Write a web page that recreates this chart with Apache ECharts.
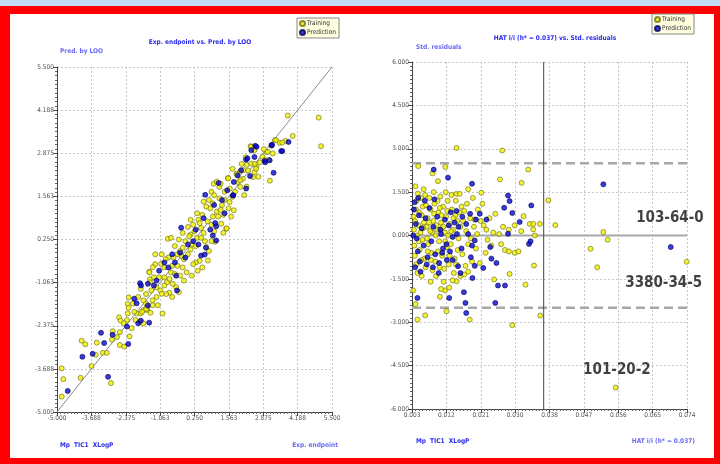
<!DOCTYPE html>
<html>
<head>
<meta charset="utf-8">
<script src="https://cdn.jsdelivr.net/npm/echarts@6/dist/echarts.min.js"></script>
<style>
body { margin: 0; }
#wrap { position: relative; width: 720px; height: 464px; background: #c2dcf6; overflow: hidden; }
#frame { position: absolute; left: 0; top: 6px; width: 720px; height: 458px; background: #ff0000; }
#paper { position: absolute; left: 10px; top: 14px; width: 704px; height: 444px; background: #fff; }
#main { position: absolute; left: 0; top: 0; width: 720px; height: 464px; }
</style>
</head>
<body>
<div id="wrap">
  <div id="frame"></div>
  <div id="paper"></div>
  <div id="main"></div>
</div>
<script>
// left plot: experimental endpoint vs predicted by LOO
var looTicks = ['-5.000', '-3.688', '-2.375', '-1.063', '0.250', '1.563', '2.875', '4.188', '5.500']
var hatTicks = ['0.003', '0.012', '0.021', '0.030', '0.038', '0.047', '0.056', '0.065', '0.074']
var resTicks = ['-6.000', '-4.500', '-3.000', '-1.500', '0.000', '1.500', '3.000', '4.500', '6.000']

var looTraining = [
  [-4.82, -3.67], [-4.76, -4.0], [-4.82, -4.53], [-4.10, -3.96], [-4.06, -2.83], [-3.92, -2.94],
  [-3.68, -3.6], [-3.52, -3.26], [-3.48, -2.89], [-3.25, -3.2], [-3.1, -3.2], [-2.94, -4.12],
  [-2.9, -2.8], [-2.87, -2.54], [-2.71, -2.72], [-2.63, -2.12], [-2.57, -2.22], [-2.6, -2.57],
  [-2.6, -2.96], [-2.43, -3.01], [-2.33, -2.2], [-2.23, -2.7], [-2.3, -2.0], [-2.0, -2.2],
  [-1.82, -2.25], [-1.7, -2.3], [-1.95, -2.0], [-1.8, -2.0], [-1.7, -1.9], [-1.55, -1.9],
  [-0.97, -2.0], [-1.6, -1.7], [-2.3, -1.71], [-2.26, -1.51], [-2.27, -1.83], [-1.58, -1.84],
  [-1.43, -1.98], [-1.45, -0.96], [-1.48, -0.73], [-0.71, -1.37], [-0.77, 0.27], [-0.65, 0.3],
  [-0.5, 0.05], [-0.3, -0.1], [-0.25, -0.25], [0.70, 0.02], [0.45, -0.4], [0.76, -0.39],
  [0.37, -0.7], [0.3, -0.45], [-0.55, -0.3], [-0.6, -0.55], [-0.75, -0.3], [-0.4, -0.55],
  [-0.3, -0.85], [-0.2, -0.6], [-1.02, -0.49], [-1.25, -0.5], [-1.34, -0.59], [-1.47, -0.75],
  [-1.1, -0.9], [-0.9, -0.9], [-0.58, -1.1], [-0.45, -1.2], [-0.8, -1.05], [-1.6, -1.41],
  [-0.83, -1.41], [-1.2, -1.2], [-1.05, -1.3], [-1.4, -1.3], [-1.7, -1.6], [-1.6, -1.87],
  [-1.75, -1.95], [-1.35, -1.6], [-1.2, -1.5], [-0.9, -1.15], [-0.65, -0.75], [-0.15, -0.35],
  [0.0, -0.2], [0.15, 0.1], [-0.1, 0.2], [0.1, 0.4], [0.25, 0.5], [0.35, 0.3], [0.5, 0.6],
  [0.0, 0.63], [0.2, 0.7], [0.4, 0.85], [0.55, 1.0], [0.35, 1.05], [0.6, 0.45], [0.75, 0.8],
  [0.9, 0.7], [1.0, 0.5], [1.27, 0.73], [1.46, 0.58], [1.03, 0.18], [1.48, 0.59], [1.1, 1.1],
  [0.85, 1.2], [0.98, 1.95], [0.8, 1.45], [0.9, 1.7], [1.2, 1.5], [1.3, 1.3], [1.59, 1.39],
  [1.75, 1.14], [1.4, 1.7], [1.52, 2.12], [1.1, 2.01], [1.0, 1.6], [1.2, 1.85], [1.6, 1.8],
  [1.91, 2.0], [1.85, 2.25], [2.1, 2.1], [2.0, 1.85], [2.24, 1.86], [1.54, 2.11], [1.99, 2.31],
  [2.11, 2.36], [2.24, 2.52], [2.42, 2.56], [2.61, 2.46], [2.54, 2.3], [2.48, 2.15], [2.39, 3.09],
  [2.54, 2.97], [2.69, 2.16], [2.6, 2.4], [2.55, 2.55], [2.84, 2.77], [3.0, 2.91], [3.09, 2.67],
  [2.94, 2.67], [3.05, 2.92], [3.24, 2.87], [3.13, 2.04], [3.32, 3.28], [3.37, 3.27], [3.5, 3.19],
  [3.72, 3.25], [4.0, 3.4], [3.6, 3.2], [3.81, 4.02], [4.99, 3.96], [5.08, 3.09], [2.41, 3.07],
  [2.2, 2.75], [1.86, 2.23], [1.7, 1.55], [1.35, 1.0], [1.25, 1.15], [1.55, 1.2], [0.65, 0.2],
  [0.5, 0.3], [0.3, 0.05], [0.1, -0.05], [-0.2, 0.0], [-0.4, -0.2], [-0.9, -0.6], [-0.7, -0.95],
  [-1.3, -0.9], [-1.45, -1.05], [-1.8, -1.25], [-1.9, -1.5], [-2.1, -1.7], [-2.05, -1.95],
  [-2.45, -2.3], [-2.15, -2.45], [-1.35, -1.75], [-1.15, -1.75], [-0.5, -0.8], [0.05, 0.35],
  [0.45, 0.75], [0.7, 1.25], [0.95, 1.35], [1.15, 0.95], [1.4, 1.45], [1.8, 1.7], [2.05, 2.55],
  [2.3, 2.35], [2.75, 2.6], [2.9, 3.0], [3.2, 3.1], [2.15, 1.6], [1.65, 0.95], [0.8, -0.1],
  [0.55, -0.6], [0.95, 0.95], [0.2, -0.5], [-0.05, -0.75], [-0.35, -1.35], [-0.6, -1.5], [-1.0, -1.4],
  [-1.0, -0.2], [-0.85, -0.35], [-0.35, 0.25], [0.1, 0.85], [0.6, 1.4], [1.25, 1.95], [1.7, 2.4],
  [2.0, 2.05], [1.35, 0.45], [0.9, 0.2], [0.15, -0.85], [-0.15, -1.0], [-1.25, -0.2], [-0.2, 0.45]
]
var looPrediction = [
  [-4.59, -4.36], [-4.03, -3.32], [-3.64, -3.23], [-3.32, -2.59], [-3.2, -2.9], [-3.05, -3.93],
  [-2.88, -2.65], [-2.28, -2.93], [-2.33, -2.4], [-1.9, -2.3], [-1.8, -2.22], [-1.48, -2.28],
  [-1.96, -1.69], [-2.05, -1.55], [-1.83, -1.08], [-1.53, -1.10], [-1.79, -1.15], [-1.53, -1.76],
  [-1.2, -1.0], [-0.42, -1.3], [-1.1, -0.7], [-0.9, -0.45], [-0.6, -0.2], [-0.75, -0.6],
  [-0.5, -0.45], [-0.3, -0.15], [-0.1, -0.3], [0.5, -0.24], [0.64, -0.21], [0.69, 0.0],
  [-0.26, 0.61], [0.2, 0.2], [0.0, 0.1], [0.3, 0.55], [0.95, 0.37], [1.08, 0.22], [1.08, 0.65],
  [1.04, 0.75], [0.6, 0.9], [0.66, 1.61], [1.17, 1.97], [1.72, 1.59], [1.3, 1.45], [1.0, 1.3],
  [1.5, 1.75], [1.75, 2.0], [2.03, 2.36], [1.9, 2.2], [2.22, 1.8], [2.22, 2.68], [2.54, 2.76],
  [2.57, 3.1], [2.62, 3.07], [2.42, 2.97], [2.27, 2.72], [2.37, 2.18], [1.73, 1.60], [3.19, 3.12],
  [3.56, 2.94], [3.27, 2.28], [2.93, 2.64], [3.12, 2.66], [3.84, 3.22], [3.60, 2.94], [3.21, 3.13],
  [2.95, 2.6], [-0.45, -0.85], [-1.3, -1.15], [0.4, 0.1], [0.85, 0.55], [1.4, 1.05]
]

// right plot: leverage (HAT) vs standardized residuals
var hatTraining = [
  [0.0145, 3.03], [0.0263, 2.94], [0.0046, 2.40], [0.0116, 2.37], [0.033, 2.28], [0.0083, 2.15],
  [0.0097, 1.88], [0.0257, 1.94], [0.0313, 1.82], [0.0145, 1.44], [0.0153, 1.44], [0.0209, 1.48],
  [0.0175, 1.6], [0.0382, 1.22], [0.0318, 0.67], [0.040, 0.36], [0.0334, 0.40], [0.0343, 0.40],
  [0.036, 0.40], [0.0343, 0.21], [0.0347, 0.0], [0.0524, 0.12], [0.0535, -0.15], [0.0491, -0.46],
  [0.0508, -1.10], [0.0739, -0.91], [0.0345, -1.04], [0.0323, -1.70], [0.0282, -1.33], [0.0242, -1.52],
  [0.0361, -2.77], [0.0289, -3.10], [0.0179, -2.91], [0.0119, -2.62], [0.0064, -2.76], [0.0044, -2.91],
  [0.0039, -2.37], [0.0033, -1.90], [0.0102, -2.12], [0.0115, -1.9], [0.0145, -1.58], [0.0155, -1.4],
  [0.0175, -1.25], [0.0205, -0.95], [0.022, -0.6], [0.0235, -0.35], [0.026, -0.3], [0.027, -0.5],
  [0.028, -0.55], [0.0295, -0.6], [0.0305, -0.55], [0.0255, 0.05], [0.0222, 0.2], [0.0198, 0.05],
  [0.0207, 0.5], [0.0215, 0.35], [0.023, 0.6], [0.0245, 0.75], [0.0265, 0.3], [0.028, 0.2],
  [0.0295, 0.35], [0.0312, 0.15], [0.0556, -5.26],
  [0.0035, 0.2], [0.0038, 0.5], [0.004, 0.9], [0.0042, 1.2], [0.0045, 1.45], [0.0048, -0.2],
  [0.005, -0.5], [0.0052, 0.1], [0.0055, 0.7], [0.0058, 1.0], [0.006, 1.6], [0.0062, -0.8],
  [0.0065, -1.1], [0.0068, 0.3], [0.007, 0.6], [0.0072, -0.3], [0.0075, 1.3], [0.0078, 0.9],
  [0.008, -0.6], [0.0082, 0.1], [0.0085, 0.5], [0.0088, 1.1], [0.009, -0.9], [0.0092, -1.4],
  [0.0095, 0.2], [0.0098, 0.8], [0.01, -0.2], [0.0103, 1.35], [0.0105, 0.45], [0.0108, -0.7],
  [0.011, 1.0], [0.0112, -1.6], [0.0115, 0.1], [0.0118, 0.65], [0.012, -0.4], [0.0122, 1.2],
  [0.0125, -1.0], [0.0128, 0.4], [0.013, -0.3], [0.0133, 0.9], [0.0136, 0.2], [0.014, -0.8],
  [0.0143, 1.2], [0.0147, 0.5], [0.015, -0.1], [0.0155, 0.3], [0.016, -0.65], [0.0165, 0.85],
  [0.017, 0.15], [0.0175, -0.3], [0.018, 0.6], [0.0185, -0.9], [0.019, 0.3], [0.0195, -0.45],
  [0.02, 0.9], [0.0037, -0.7], [0.0041, -1.0], [0.0044, -1.3], [0.0047, 0.35], [0.0053, 1.3],
  [0.0057, -0.15], [0.0061, 0.45], [0.0066, 1.05], [0.0071, -0.55], [0.0077, 0.15], [0.0083, -1.2],
  [0.0087, 0.75], [0.0093, 0.35], [0.0097, -0.55], [0.0102, 0.95], [0.0107, 0.25], [0.0113, -1.15],
  [0.0117, 1.5], [0.0123, 0.0], [0.0127, -0.7], [0.0132, 1.4], [0.0138, -1.3], [0.0142, 0.7],
  [0.0148, -0.5], [0.0158, 1.0], [0.0168, -1.05], [0.0034, 0.65], [0.0036, -0.35], [0.0039, 1.7],
  [0.0043, 0.0], [0.0049, 0.8], [0.0054, -0.85], [0.0059, 0.25], [0.0064, 1.4], [0.0069, -0.1],
  [0.0074, 0.45], [0.0079, -0.85], [0.0086, 1.5], [0.0091, 0.0], [0.0096, 1.2], [0.0101, -1.1],
  [0.0106, 0.7], [0.0111, 0.3], [0.0116, -0.2], [0.0121, 0.85], [0.0131, 0.15], [0.0137, 0.6],
  [0.0144, -1.0], [0.0152, 0.8], [0.0162, 0.5], [0.0172, 1.1], [0.0182, -0.1], [0.0192, 0.55],
  [0.0225, -0.15], [0.024, 0.1], [0.0212, 1.1], [0.0187, 1.3], [0.0165, -1.35], [0.0135, -1.55],
  [0.0126, -1.8], [0.0105, -1.85], [0.0078, -1.6], [0.0055, -1.4]
]
var hatPrediction = [
  [0.0086, 2.28], [0.0123, 2.0], [0.0524, 1.77], [0.0185, 1.79], [0.0278, 1.38], [0.0282, 1.19],
  [0.0338, 1.04], [0.0268, 0.96], [0.0289, 0.78], [0.0308, 0.47], [0.0698, -0.40], [0.0270, -1.73],
  [0.0252, -1.73], [0.0245, -2.33], [0.0332, -0.29], [0.0336, -0.2], [0.017, -2.68], [0.0044, -2.16],
  [0.0168, -2.33], [0.0164, -1.96], [0.0126, -2.16], [0.0186, -1.47], [0.0214, -1.12], [0.0248, -0.95],
  [0.0235, -0.8], [0.0278, 0.06], [0.0192, -0.17], [0.0185, -0.35], [0.0182, -0.75], [0.0192, -1.05],
  [0.0149, -1.06], [0.0135, -0.85], [0.0155, -1.3],
  [0.0035, 0.9], [0.0037, 1.15], [0.004, 0.4], [0.0042, -0.1], [0.0045, -0.55], [0.0048, 0.7],
  [0.005, -0.9], [0.0055, 0.25], [0.006, -0.35], [0.0065, 0.6], [0.007, -0.75], [0.0075, 0.95],
  [0.008, -0.2], [0.0085, 0.3], [0.009, -0.65], [0.0095, 0.65], [0.01, -0.95], [0.0105, 0.05],
  [0.011, -0.45], [0.0115, 0.55], [0.012, -0.85], [0.0125, 0.35], [0.013, 0.8], [0.0135, -0.05],
  [0.014, 0.45], [0.0145, 0.85], [0.015, 0.3], [0.016, 0.65], [0.017, 0.4], [0.018, 0.75],
  [0.0195, 0.55], [0.0205, 0.75], [0.0038, -1.1], [0.0052, -1.25], [0.0068, -1.0], [0.0084, -1.1],
  [0.0099, -1.3], [0.0108, -0.6], [0.0119, -0.3], [0.0033, 0.0], [0.0046, 1.3], [0.0063, 1.2],
  [0.0088, 1.25], [0.0103, 0.2], [0.0128, -0.55], [0.0146, 0.05], [0.0158, -0.45], [0.0175, 0.05],
  [0.0222, 0.55], [0.0232, -0.4]
]

var hStar = 0.037
var residualLimit = 2.5
var outlierNames = ['103-64-0', '3380-34-5', '101-20-2']
var outlierLabelPos = [[0.0696, 0.61], [0.0680, -1.64], [0.0559, -4.65]]

var blueTitle = { color: '#2a2af0', fontSize: 6.5, fontWeight: 'bold', fontFamily: 'DejaVu Sans Condensed' }
var blueName = { color: '#6a6af5', fontSize: 6.5, fontFamily: 'DejaVu Sans Condensed' }
var tickText = { color: '#555', fontSize: 6.5, fontFamily: 'DejaVu Sans Condensed' }

function makeAxis (min, max, interval, labels, gridIndex) {
  return {
    type: 'value',
    gridIndex: gridIndex,
    min: min,
    max: max,
    interval: interval,
    axisLine: { onZero: false, lineStyle: { color: '#444', width: 1 } },
    axisTick: { length: 4, lineStyle: { color: '#444' } },
    minorTick: { show: true, splitNumber: 10, length: 2, lineStyle: { color: '#666' } },
    axisLabel: Object.assign({
      margin: 3,
      formatter: function (v) {
        return labels[Math.round((v - min) / interval)]
      }
    }, tickText),
    splitLine: { show: true, lineStyle: { color: '#c8c8c8', type: [2, 2], width: 1 } }
  }
}

function scatter (name, data, color, border, xi) {
  return {
    name: name,
    type: 'scatter',
    xAxisIndex: xi,
    yAxisIndex: xi,
    data: data,
    symbolSize: 5,
    itemStyle: { color: color, borderColor: border, borderWidth: 0.8 },
    z: 3
  }
}

function refLine (data, color, width, type) {
  return {
    type: 'line',
    xAxisIndex: 1,
    yAxisIndex: 1,
    data: data,
    symbol: 'none',
    silent: true,
    lineStyle: { color: color, width: width, type: type },
    z: 2
  }
}

var legendBox = {
  orient: 'vertical',
  data: ['Training', 'Prediction'],
  itemWidth: 5,
  itemHeight: 5,
  itemGap: 2,
  padding: [2, 3, 2, 2],
  backgroundColor: '#ffffe0',
  borderColor: '#888',
  borderWidth: 1,
  icon: 'circle',
  textStyle: { fontSize: 6.5, color: '#333', padding: [0, 0, 0, -3], fontFamily: 'DejaVu Sans Condensed' }
}

var chart = echarts.init(document.getElementById('main'))
chart.setOption({
  animation: false,
  title: [
    { text: 'Exp. endpoint vs. Pred. by LOO', left: 195, top: 34, textAlign: 'center', textStyle: blueTitle },
    { text: 'Pred. by LOO', left: 55, top: 43, textStyle: blueName },
    { text: 'Mp  TIC1  XLogP', left: 55, top: 437, textStyle: blueTitle },
    { text: 'Exp. endpoint', left: 333, top: 437, textAlign: 'right', textStyle: blueName },
    { text: 'HAT i/i (h* = 0.037) vs. Std. residuals', left: 550, top: 30, textAlign: 'center', textStyle: blueTitle },
    { text: 'Std. residuals', left: 411, top: 39, textStyle: blueName },
    { text: 'Mp  TIC1  XLogP', left: 411, top: 433, textStyle: blueTitle },
    { text: 'HAT i/i (h* = 0.037)', left: 690, top: 433, textAlign: 'right', textStyle: blueName }
  ],
  legend: [
    Object.assign({ left: 297, top: 18 }, legendBox),
    Object.assign({ left: 652, top: 14 }, legendBox)
  ],
  grid: [
    { left: 57, top: 67, width: 275, height: 345 },
    { left: 412, top: 62, width: 275, height: 347 }
  ],
  xAxis: [
    makeAxis(-5, 5.5, 1.3125, looTicks, 0),
    makeAxis(0.003, 0.074, 0.008875, hatTicks, 1)
  ],
  yAxis: [
    makeAxis(-5, 5.5, 1.3125, looTicks, 0),
    makeAxis(-6, 6, 1.5, resTicks, 1)
  ],
  series: [
    {
      type: 'line',
      xAxisIndex: 0,
      yAxisIndex: 0,
      data: [[-5, -5], [5.5, 5.5]],
      symbol: 'none',
      silent: true,
      lineStyle: { color: '#8a8a8a', width: 1 },
      z: 2
    },
    scatter('Training', looTraining, '#f2f200', '#6b6b20', 0),
    scatter('Prediction', looPrediction, '#0a0ad2', '#00005a', 0),
    refLine([[0.003, 0], [0.074, 0]], '#a8a8a8', 2, 'solid'),
    refLine([[0.003, residualLimit], [0.074, residualLimit]], '#a8a8a8', 2.5, [9, 5]),
    refLine([[0.003, -residualLimit], [0.074, -residualLimit]], '#a8a8a8', 2.5, [9, 5]),
    refLine([[hStar, -6], [hStar, 6]], '#444', 1, 'solid'),
    scatter('Training', hatTraining, '#f2f200', '#6b6b20', 1),
    scatter('Prediction', hatPrediction, '#0a0ad2', '#00005a', 1),
    {
      type: 'scatter',
      xAxisIndex: 1,
      yAxisIndex: 1,
      silent: true,
      symbolSize: 0,
      data: outlierLabelPos.map(function (p, i) { return { value: p, name: outlierNames[i] } }),
      label: {
        show: true,
        position: 'inside',
        formatter: '{b}',
        color: '#111',
        fontSize: 15,
        fontWeight: 'bold',
        fontFamily: 'DejaVu Sans Condensed'
      },
      z: 5
    }
  ]
})
</script>
</body>
</html>
